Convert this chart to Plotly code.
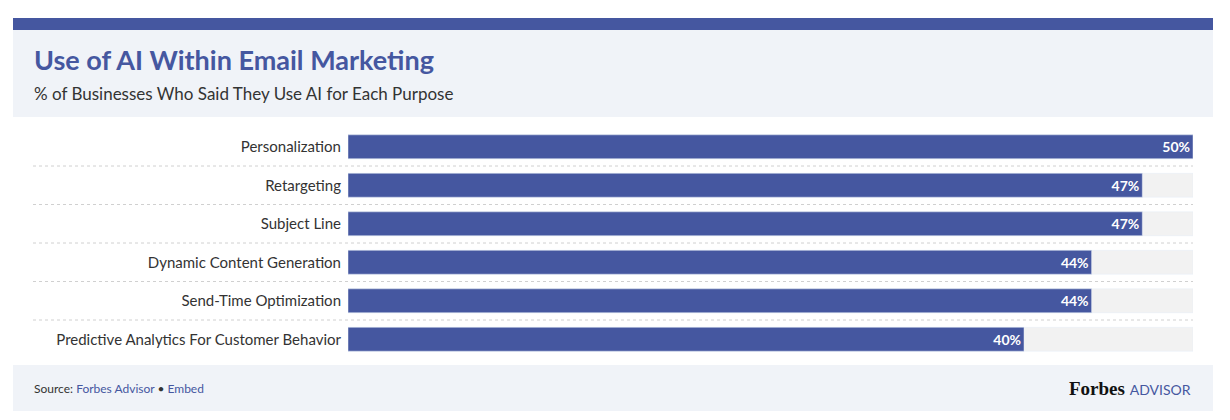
import plotly.graph_objects as go

categories = ["Personalization", "Retargeting", "Subject Line", "Dynamic Content Generation",
              "Send-Time Optimization", "Predictive Analytics For Customer Behavior"]
values = [50, 47, 47, 44, 44, 40]
max_value = 50

OFF = 8  # page body margin
W, H = 1222, 412
BLUE = "#4557a0"
FONT = "Lato"

def px(x): return (x - OFF) / W
def py(y): return 1 - (y - OFF) / H

fig = go.Figure()
fig.add_bar(y=categories, x=[max_value] * len(categories), orientation="h",
            marker_color="#f2f2f2", width=0.62, hoverinfo="skip", showlegend=False)
fig.add_bar(y=categories, x=values, orientation="h", marker_color=BLUE, width=0.62,
            text=[f"<b>{v}%</b>" for v in values], textposition="inside", insidetextanchor="end",
            textfont=dict(color="white", size=14, family=FONT), showlegend=False)

shapes = [
    dict(type="rect", xref="paper", yref="paper", x0=px(13), x1=px(1213), y0=py(30), y1=py(18),
         fillcolor=BLUE, line_width=0, layer="below"),
    dict(type="rect", xref="paper", yref="paper", x0=px(13), x1=px(1213), y0=py(117), y1=py(30),
         fillcolor="#f0f3f8", line_width=0, layer="below"),
    dict(type="rect", xref="paper", yref="paper", x0=px(13), x1=px(1213), y0=py(411), y1=py(365),
         fillcolor="#f0f3f8", line_width=0, layer="below"),
]
for i in range(len(categories) - 1):
    shapes.append(dict(type="line", xref="paper", yref="y", x0=px(33), x1=px(1193),
                       y0=i + 0.5, y1=i + 0.5, line=dict(color="#d0d0d0", width=1, dash="dot")))

annotations = [
    dict(text="<b>Use of AI Within Email Marketing</b>", x=px(32), y=py(59), xref="paper", yref="paper",
         xanchor="left", yanchor="middle", showarrow=False, font=dict(size=27, color=BLUE, family=FONT)),
    dict(text="% of Businesses Who Said They Use AI for Each Purpose", x=px(32), y=py(93), xref="paper",
         yref="paper", xanchor="left", yanchor="middle", showarrow=False,
         font=dict(size=17, color="#333", family=FONT)),
    dict(text="Source: <span style='color:#4557a0'>Forbes Advisor</span> • <span style='color:#4557a0'>Embed</span>",
         x=px(32), y=py(388), xref="paper", yref="paper", xanchor="left", yanchor="middle", showarrow=False,
         font=dict(size=12, color="#333", family=FONT)),
    dict(text="<b>Forbes</b> <span style='font-size:14px;color:#4557a0;font-family:Lato'>ADVISOR</span>",
         x=px(1193), y=py(388), xref="paper", yref="paper", xanchor="right", yanchor="middle", showarrow=False,
         font=dict(size=19, color="#111", family="Liberation Serif")),
]

fig.update_layout(
    width=W, height=H, margin=dict(l=0, r=0, t=0, b=0), barmode="overlay",
    paper_bgcolor="white", plot_bgcolor="white", shapes=shapes, annotations=annotations,
    xaxis=dict(domain=[px(348), px(1193)], range=[0, max_value], visible=False, fixedrange=True),
    yaxis=dict(domain=[py(358.5), py(127.5)], autorange="reversed", showgrid=False, ticks="",
               ticklabelstandoff=6, tickfont=dict(size=15, color="#333", family=FONT)),
)
fig.write_html("out.html")
